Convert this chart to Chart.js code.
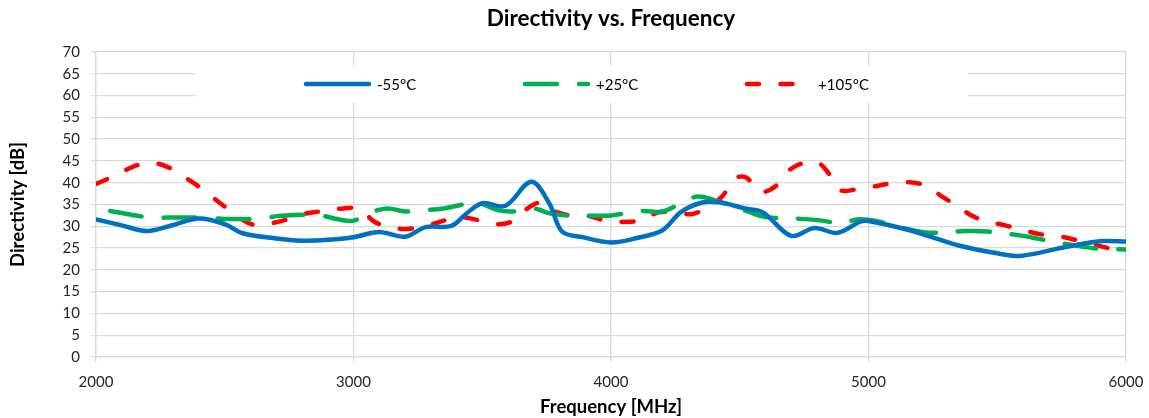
<!DOCTYPE html>
<html>
<head>
<meta charset="utf-8">
<script src="https://cdn.jsdelivr.net/npm/chart.js@4.4.1/dist/chart.umd.min.js"></script>
<style>
  html, body { margin: 0; padding: 0; background: #ffffff; }
  #wrap { width: 1149px; height: 418px; position: relative; }
</style>
</head>
<body>
<div id="wrap"><canvas id="c"></canvas></div>
<script>
// ---- Data ----
const seriesLabels = ['-55°C', '+25°C', '+105°C'];

const freqM55 = [2000,2100,2200,2300,2400,2500,2570,2700,2800,2900,3000,3100,3200,3280,3380,3440,3500,3590,3690,3760,3810,3890,4000,4100,4200,4270,4350,4420,4520,4590,4700,4790,4880,4970,5000,5160,5350,5500,5590,5770,5910,6000];
const dirM55  = [31.6,30.2,28.9,30.3,31.8,30.5,28.4,27.2,26.7,26.9,27.5,28.7,27.6,29.8,30.1,33.0,35.3,34.7,40.2,35.3,28.8,27.5,26.3,27.3,29.1,33.2,35.4,35.5,34.1,33.2,27.8,29.6,28.5,31.1,31.2,29.1,25.6,23.8,23.2,25.3,26.6,26.5];

const freqP25 = [2055,2200,2300,2415,2500,2640,2715,2860,2940,3000,3060,3130,3200,3280,3350,3480,3560,3620,3700,3760,3850,3920,4000,4120,4200,4330,4400,4530,4600,4740,4820,4890,4960,5030,5170,5240,5380,5460,5600,5670,5810,5890,6000];
const dirP25  = [33.5,32.1,32.0,32.0,31.7,31.8,32.4,32.6,31.6,31.3,33.0,34.1,33.4,33.7,34.1,35.3,33.7,33.4,34.1,33.0,32.4,32.4,32.5,33.5,33.4,36.8,36.0,33.4,32.1,31.7,31.3,30.7,31.6,31.2,29.1,28.5,28.9,28.8,27.8,27.0,25.5,24.9,24.7];

const freqP105 = [2000,2080,2145,2210,2275,2340,2390,2450,2500,2560,2617,2690,2755,2820,2890,2960,3025,3080,3140,3210,3285,3350,3415,3485,3545,3616,3666,3725,3783,3850,3910,3990,4050,4120,4183,4250,4315,4376,4431,4474,4500,4530,4580,4637,4684,4741,4803,4850,4890,4955,5018,5091,5161,5227,5286,5344,5402,5464,5538,5600,5666,5732,5802,5868,5938,6000];
const dirP105  = [39.7,41.8,43.7,44.6,43.7,41.4,39.5,36.8,34.5,31.8,30.3,30.8,31.8,33.0,33.5,34.1,34.0,31.1,29.8,29.4,30.1,31.3,32.1,31.4,30.5,31.1,33.7,35.4,33.4,32.4,32.4,31.1,31.0,31.4,33.2,33.2,32.8,34.4,36.8,40.6,41.4,41.0,37.9,39.1,42.5,44.4,44.6,41.8,38.3,38.5,39.1,39.9,40.1,39.2,36.8,34.7,32.4,31.1,30.1,29.1,28.2,27.8,26.9,25.9,24.9,24.0];

const xTicks = [2000, 3000, 4000, 5000, 6000];
const yMin = 0, yMax = 70, yStep = 5;

function pts(xs, ys) { return xs.map((x, i) => ({ x: x, y: ys[i] })); }

const FONT = "Lato, 'Open Sans', sans-serif";
const GRID = '#d9d9d9';

// Legend drawn inside the plot area (white box over gridlines)
const insideLegend = {
  id: 'insideLegend',
  afterDraw(chart) {
    const ctx = chart.ctx;
    ctx.save();
    ctx.fillStyle = '#ffffff';
    ctx.fillRect(196, 66, 772, 37);
    const starts = [304, 523, 745];
    const y = 84;
    chart.data.datasets.forEach((ds, i) => {
      const x0 = starts[i];
      ctx.save();
      ctx.strokeStyle = ds.borderColor;
      ctx.lineWidth = ds.borderWidth;
      ctx.lineCap = 'round';
      ctx.setLineDash(ds.borderDash || []);
      ctx.beginPath();
      ctx.moveTo(x0 + 2, y);
      ctx.lineTo(x0 + 65, y);
      ctx.stroke();
      ctx.restore();
      ctx.fillStyle = '#000000';
      ctx.font = '15px ' + FONT;
      ctx.textAlign = 'left';
      ctx.textBaseline = 'middle';
      ctx.fillText(ds.label, x0 + 73, y + 1);
    });
    ctx.restore();
  }
};

new Chart(document.getElementById('c'), {
  type: 'line',
  data: {
    datasets: [
      { label: seriesLabels[0], data: pts(freqM55, dirM55), borderColor: '#0070c0', borderWidth: 4.5, borderCapStyle: 'round', borderJoinStyle: 'round', tension: 0.35, pointRadius: 0, fill: false },
      { label: seriesLabels[1], data: pts(freqP25, dirP25), borderColor: '#00b050', borderWidth: 4.5, borderDash: [32, 22], borderCapStyle: 'round', borderJoinStyle: 'round', tension: 0.35, pointRadius: 0, fill: false },
      { label: seriesLabels[2], data: pts(freqP105, dirP105), borderColor: '#ff0000', borderWidth: 4.5, borderDash: [12, 21.5], borderCapStyle: 'round', borderJoinStyle: 'round', tension: 0.35, pointRadius: 0, fill: false }
    ]
  },
  options: {
    responsive: true,
    maintainAspectRatio: false,
    animation: false,
    layout: { padding: { left: 0, right: 23, top: 0, bottom: 0 } },
    plugins: {
      legend: { display: false },
      tooltip: { enabled: false },
      title: {
        display: true,
        fullSize: false,
        text: 'Directivity vs. Frequency',
        color: '#000000',
        font: { family: FONT, size: 22.5, weight: 'bold', lineHeight: 1.2 },
        padding: { top: 5, bottom: 20 }
      }
    },
    scales: {
      x: {
        type: 'linear',
        min: 2000, max: 6000,
        afterBuildTicks: (s) => { s.ticks = xTicks.map(v => ({ value: v })); },
        afterFit: (s) => { s.height = 61; s.paddingRight = 0; s.paddingLeft = 0; },
        grid: { color: GRID, lineWidth: 1.3, tickLength: 5, drawTicks: true, tickColor: GRID },
        border: { color: GRID, width: 1.3 },
        ticks: { color: '#262626', font: { family: FONT, size: 15 }, padding: 11, maxRotation: 0, autoSkip: false, callback: (v) => String(v) },
        title: { display: true, text: 'Frequency [MHz]', color: '#000000', font: { family: FONT, size: 18.5, weight: 'bold', lineHeight: 1.2 }, padding: { top: 0, bottom: 0 } }
      },
      y: {
        min: yMin, max: yMax,
        afterFit: (s) => { s.width = 96; },
        grid: { color: GRID, lineWidth: 1.3, tickLength: 5, drawTicks: true, tickColor: GRID },
        border: { color: GRID, width: 1.3 },
        ticks: { stepSize: yStep, color: '#262626', font: { family: FONT, size: 15 }, padding: 11 },
        title: { display: true, text: 'Directivity [dB]', color: '#000000', font: { family: FONT, size: 18.5, weight: 'bold', lineHeight: 1.2 }, padding: { top: 7, bottom: 0 } }
      }
    }
  },
  plugins: [insideLegend]
});
</script>
</body>
</html>
